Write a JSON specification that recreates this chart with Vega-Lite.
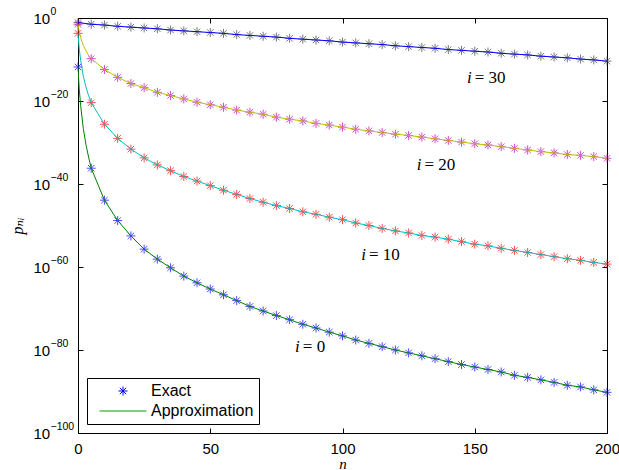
{
  "$schema": "https://vega.github.io/schema/vega-lite/v6.json",
  "autosize": {"type": "none"},
  "padding": {"left": 78, "top": 18, "right": 12, "bottom": 37},
  "width": 529,
  "height": 415,
  "background": "white",
  "config": {
    "view": {"stroke": "black", "strokeWidth": 1},
    "axis": {"domainColor": "black", "tickColor": "black", "labelColor": "black", "labelFont": "Liberation Sans, DejaVu Sans", "labelFontSize": 15, "grid": false, "tickSize": -5, "domainWidth": 1, "tickWidth": 1, "labelFlush": false, "labelOverlap": false}
  },
  "datasets": {
    "pts": [
      {"n":0,"i":30,"p":7.943e-2},{"n":5,"i":30,"p":3.162e-2},{"n":10,"i":30,"p":1.995e-2},{"n":15,"i":30,"p":1e-2},{"n":20,"i":30,"p":6.31e-3},{"n":25,"i":30,"p":3.981e-3},{"n":30,"i":30,"p":2.512e-3},{"n":35,"i":30,"p":1.259e-3},{"n":40,"i":30,"p":7.943e-4},{"n":45,"i":30,"p":5.012e-4},{"n":50,"i":30,"p":3.162e-4},{"n":55,"i":30,"p":1.995e-4},{"n":60,"i":30,"p":1e-4},{"n":65,"i":30,"p":6.31e-5},{"n":70,"i":30,"p":3.981e-5},{"n":75,"i":30,"p":2.512e-5},{"n":80,"i":30,"p":1.259e-5},{"n":85,"i":30,"p":7.943e-6},{"n":90,"i":30,"p":5.012e-6},{"n":95,"i":30,"p":3.162e-6},{"n":100,"i":30,"p":1.585e-6},{"n":105,"i":30,"p":1e-6},{"n":110,"i":30,"p":6.31e-7},{"n":115,"i":30,"p":3.981e-7},{"n":120,"i":30,"p":1.995e-7},{"n":125,"i":30,"p":1.259e-7},{"n":130,"i":30,"p":7.943e-8},{"n":135,"i":30,"p":5.012e-8},{"n":140,"i":30,"p":2.512e-8},{"n":145,"i":30,"p":1.585e-8},{"n":150,"i":30,"p":1e-8},{"n":155,"i":30,"p":6.31e-9},{"n":160,"i":30,"p":3.162e-9},{"n":165,"i":30,"p":1.995e-9},{"n":170,"i":30,"p":1.259e-9},{"n":175,"i":30,"p":6.31e-10},{"n":180,"i":30,"p":3.981e-10},{"n":185,"i":30,"p":2.512e-10},{"n":190,"i":30,"p":1.259e-10},{"n":195,"i":30,"p":7.943e-11},{"n":200,"i":30,"p":3.981e-11},
      {"n":0,"i":20,"p":3.162e-2},{"n":0.25,"i":20,"p":3.162e-3,"approx":true},{"n":0.5,"i":20,"p":3.981e-4,"approx":true},{"n":1,"i":20,"p":1.995e-5,"approx":true},{"n":2,"i":20,"p":2.512e-7,"approx":true},{"n":3,"i":20,"p":1.259e-8,"approx":true},{"n":4,"i":20,"p":1e-9,"approx":true},
      {"n":5,"i":20,"p":1.585e-10},{"n":10,"i":20,"p":3.981e-13},{"n":15,"i":20,"p":5.012e-15},{"n":20,"i":20,"p":1.585e-16},{"n":25,"i":20,"p":1.585e-17},{"n":30,"i":20,"p":1.259e-18},{"n":35,"i":20,"p":1.995e-19},{"n":40,"i":20,"p":3.162e-20},{"n":45,"i":20,"p":5.012e-21},{"n":50,"i":20,"p":1.259e-21},{"n":55,"i":20,"p":3.162e-22},{"n":60,"i":20,"p":6.31e-23},{"n":65,"i":20,"p":1.995e-23},{"n":70,"i":20,"p":6.31e-24},{"n":75,"i":20,"p":1.259e-24},{"n":80,"i":20,"p":3.981e-25},{"n":85,"i":20,"p":1.585e-25},{"n":90,"i":20,"p":3.981e-26},{"n":95,"i":20,"p":1.585e-26},{"n":100,"i":20,"p":5.012e-27},{"n":105,"i":20,"p":1.585e-27},{"n":110,"i":20,"p":6.31e-28},{"n":115,"i":20,"p":2.512e-28},{"n":120,"i":20,"p":1e-28},{"n":125,"i":20,"p":5.012e-29},{"n":130,"i":20,"p":1.995e-29},{"n":135,"i":20,"p":7.943e-30},{"n":140,"i":20,"p":3.162e-30},{"n":145,"i":20,"p":1.259e-30},{"n":150,"i":20,"p":5.012e-31},{"n":155,"i":20,"p":2.512e-31},{"n":160,"i":20,"p":1e-31},{"n":165,"i":20,"p":3.981e-32},{"n":170,"i":20,"p":1.585e-32},{"n":175,"i":20,"p":6.31e-33},{"n":180,"i":20,"p":3.162e-33},{"n":185,"i":20,"p":1.259e-33},{"n":190,"i":20,"p":7.943e-34},{"n":195,"i":20,"p":3.981e-34},{"n":200,"i":20,"p":1.585e-34},
      {"n":0,"i":10,"p":1.995e-4},{"n":0.25,"i":10,"p":1.585e-6,"approx":true},{"n":0.5,"i":10,"p":3.162e-8,"approx":true},{"n":1,"i":10,"p":6.31e-11,"approx":true},{"n":2,"i":10,"p":1e-14,"approx":true},{"n":3,"i":10,"p":2.512e-17,"approx":true},{"n":4,"i":10,"p":1.995e-19,"approx":true},
      {"n":5,"i":10,"p":3.981e-21},{"n":10,"i":10,"p":2.512e-26},{"n":15,"i":10,"p":1e-29},{"n":20,"i":10,"p":2.512e-32},{"n":25,"i":10,"p":1.995e-34},{"n":30,"i":10,"p":3.981e-36},{"n":35,"i":10,"p":1.585e-37},{"n":40,"i":10,"p":6.31e-39},{"n":45,"i":10,"p":5.012e-40},{"n":50,"i":10,"p":3.981e-41},{"n":55,"i":10,"p":3.162e-42},{"n":60,"i":10,"p":3.162e-43},{"n":65,"i":10,"p":3.162e-44},{"n":70,"i":10,"p":3.981e-45},{"n":75,"i":10,"p":6.31e-46},{"n":80,"i":10,"p":1.259e-46},{"n":85,"i":10,"p":1.995e-47},{"n":90,"i":10,"p":5.012e-48},{"n":95,"i":10,"p":1e-48},{"n":100,"i":10,"p":2.512e-49},{"n":105,"i":10,"p":3.981e-50},{"n":110,"i":10,"p":1e-50},{"n":115,"i":10,"p":1.995e-51},{"n":120,"i":10,"p":5.012e-52},{"n":125,"i":10,"p":1.585e-52},{"n":130,"i":10,"p":3.981e-53},{"n":135,"i":10,"p":1.585e-53},{"n":140,"i":10,"p":5.012e-54},{"n":145,"i":10,"p":1.259e-54},{"n":150,"i":10,"p":3.162e-55},{"n":155,"i":10,"p":1.259e-55},{"n":160,"i":10,"p":3.162e-56},{"n":165,"i":10,"p":1e-56},{"n":170,"i":10,"p":3.162e-57},{"n":175,"i":10,"p":1e-57},{"n":180,"i":10,"p":3.162e-58},{"n":185,"i":10,"p":1e-58},{"n":190,"i":10,"p":3.981e-59},{"n":195,"i":10,"p":1.259e-59},{"n":200,"i":10,"p":5.012e-60},
      {"n":0,"i":0,"p":1.585e-12},{"n":0.25,"i":0,"p":1.585e-15,"approx":true},{"n":0.5,"i":0,"p":5.012e-18,"approx":true},{"n":1,"i":0,"p":7.943e-22,"approx":true},{"n":2,"i":0,"p":2.512e-27,"approx":true},{"n":3,"i":0,"p":3.162e-31,"approx":true},{"n":4,"i":0,"p":3.162e-34,"approx":true},
      {"n":5,"i":0,"p":6.31e-37},{"n":10,"i":0,"p":1.259e-44},{"n":15,"i":0,"p":1.585e-49},{"n":20,"i":0,"p":3.162e-53},{"n":25,"i":0,"p":1.995e-56},{"n":30,"i":0,"p":7.943e-59},{"n":35,"i":0,"p":6.31e-61},{"n":40,"i":0,"p":6.31e-63},{"n":45,"i":0,"p":1.585e-64},{"n":50,"i":0,"p":5.012e-66},{"n":55,"i":0,"p":1.995e-67},{"n":60,"i":0,"p":7.943e-69},{"n":65,"i":0,"p":3.162e-70},{"n":70,"i":0,"p":2.512e-71},{"n":75,"i":0,"p":1.995e-72},{"n":80,"i":0,"p":1.995e-73},{"n":85,"i":0,"p":1.585e-74},{"n":90,"i":0,"p":1.995e-75},{"n":95,"i":0,"p":1.995e-76},{"n":100,"i":0,"p":2.512e-77},{"n":105,"i":0,"p":2.512e-78},{"n":110,"i":0,"p":3.981e-79},{"n":115,"i":0,"p":6.31e-80},{"n":120,"i":0,"p":1e-80},{"n":125,"i":0,"p":1.995e-81},{"n":130,"i":0,"p":3.981e-82},{"n":135,"i":0,"p":7.943e-83},{"n":140,"i":0,"p":1.585e-83},{"n":145,"i":0,"p":3.162e-84},{"n":150,"i":0,"p":7.943e-85},{"n":155,"i":0,"p":1.995e-85},{"n":160,"i":0,"p":5.012e-86},{"n":165,"i":0,"p":7.943e-87},{"n":170,"i":0,"p":2.512e-87},{"n":175,"i":0,"p":6.31e-88},{"n":180,"i":0,"p":1.585e-88},{"n":185,"i":0,"p":3.162e-89},{"n":190,"i":0,"p":1.259e-89},{"n":195,"i":0,"p":2.512e-90},{"n":200,"i":0,"p":6.31e-91}
    ],
    "labels": [
      {"n":150,"p":3.162e-15,"t":"= 30"},
      {"n":131,"p":3.981e-36,"t":"= 20"},
      {"n":110,"p":7.943e-58,"t":"= 10"},
      {"n":85,"p":6.31e-80,"t":"= 0"}
    ]
  },
  "layer": [
    {
      "data": {"name": "pts"},
      "transform": [{"filter": "!datum.approx"}],
      "mark": {"type": "point", "filled": false, "size": 100, "strokeWidth": 1, "clip": false},
      "encoding": {
        "x": {"field": "n", "type": "quantitative", "scale": {"domain": [0, 200], "nice": false, "zero": false},
          "axis": {"values": [0, 50, 100, 150, 200], "title": "n", "titleFont": "Liberation Serif", "titleFontStyle": "italic", "titleFontWeight": "normal", "titleFontSize": 15, "titlePadding": 0, "labelPadding": 13}},
        "y": {"field": "p", "type": "quantitative", "scale": {"type": "log", "domain": [1e-100, 1], "nice": false},
          "axis": {"values": [1, 1e-20, 1e-40, 1e-60, 1e-80, 1e-100], "title": "pₙᵢ", "titleFont": "Liberation Serif, DejaVu Serif", "titleFontStyle": "italic", "titleFontWeight": "normal", "titleFontSize": 16, "titlePadding": 8, "labelPadding": 50, "labelAlign": "left", "labelBaseline": "middle",
            "labelExpr": "'10'"}},
        "stroke": {"field": "i", "type": "nominal", "scale": {"domain": [0, 10, 20, 30], "range": ["#0000ff", "#ff0000", "#bf00bf", "#404040"]}, "legend": null},
        "shape": {"datum": "Exact", "scale": {"domain": ["Exact", "Approximation"], "range": ["M0,-0.9L0,0.9M-0.9,0L0.9,0M-0.64,-0.64L0.64,0.64M-0.64,0.64L0.64,-0.64", "M-4.7,0L4.7,0"]},
          "legend": {"title": null, "orient": "bottom-left", "offset": 9, "strokeColor": "black", "fillColor": "white", "padding": 5, "symbolSize": 100, "symbolStrokeColor": {"expr": "datum.value === 'Exact' ? '#0000ff' : '#00a000'"}, "symbolFillColor": "transparent", "symbolOffset": 23, "labelOffset": 20, "labelFont": "Liberation Sans", "labelFontSize": 16, "labelColor": "black", "rowPadding": 4, "symbolStrokeWidth": 1, "symbolOpacity": 1}}
      }
    },
    {
      "data": {"name": "pts"},
      "mark": {"type": "line", "strokeWidth": 1, "clip": true},
      "encoding": {
        "x": {"field": "n", "type": "quantitative", "axis": {"orient": "top", "values": [0, 50, 100, 150, 200], "labels": false, "title": null}},
        "y": {"field": "p", "type": "quantitative", "axis": {"orient": "right", "values": [1, 1e-20, 1e-40, 1e-60, 1e-80, 1e-100], "labels": false, "title": null}},
        "stroke": {"field": "i", "type": "nominal", "scale": {"domain": [0, 10, 20, 30], "range": ["#008000", "#00bfbf", "#bfbf00", "#0000ff"]}, "legend": null},
        "order": {"field": "n", "type": "quantitative"}
      }
    },
    {
      "data": {"name": "labels"},
      "mark": {"type": "text", "text": "i", "font": "Liberation Serif", "fontStyle": "italic", "fontSize": 17, "align": "right", "baseline": "middle", "dx": -3},
      "encoding": {"x": {"field": "n", "type": "quantitative", "axis": null},
        "y": {"field": "p", "type": "quantitative", "axis": {"orient": "left", "values": [1, 1e-20, 1e-40, 1e-60, 1e-80, 1e-100], "title": null, "domain": false, "tickOpacity": 0, "labelFontSize": 10.5, "labelAlign": "left", "labelBaseline": "middle", "labelPadding": 33, "labelOffset": -7,
          "labelExpr": "round(log(datum.value)/LN10) == 0 ? '0' : '−' + (-round(log(datum.value)/LN10))"}}}
    },
    {
      "data": {"name": "labels"},
      "mark": {"type": "text", "font": "Liberation Serif", "fontSize": 17, "align": "left", "baseline": "middle"},
      "encoding": {"x": {"field": "n", "type": "quantitative", "axis": null}, "y": {"field": "p", "type": "quantitative", "axis": null}, "text": {"field": "t"}}
    }
  ],
  "resolve": {"scale": {"stroke": "independent"}, "axis": {"x": "independent", "y": "independent"}}
}
